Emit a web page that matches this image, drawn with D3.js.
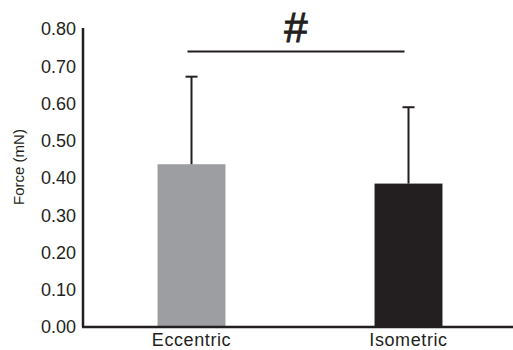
<!DOCTYPE html>
<html><head><meta charset="utf-8">
<script src="https://cdn.jsdelivr.net/npm/d3@7"></script>
<style>body{margin:0;background:#fff}svg{display:block}text{font-family:"Liberation Sans",Arial,sans-serif;fill:#231f20}</style>
</head><body>
<svg id="c" width="513" height="350"></svg>
<script>
const categories = ["Eccentric", "Isometric"];
const means = [0.437, 0.385];
const errorTops = [0.672, 0.590];
const colors = ["#9d9ea2", "#231f20"];
const yTicks = [0, 0.1, 0.2, 0.3, 0.4, 0.5, 0.6, 0.7, 0.8];
const sigLabel = "#";
const yLabel = "Force (mN)";

const svg = d3.select("#c");
const y = d3.scaleLinear().domain([0, 0.8]).range([327, 29]);
const x = d3.scaleBand().domain(categories).range([83, 517]).paddingInner(0.687).paddingOuter(0.3435);

// bars
svg.selectAll("rect.bar").data(categories).join("rect")
  .attr("x", d => x(d)).attr("width", x.bandwidth())
  .attr("y", (d,i) => y(means[i])).attr("height", (d,i) => y(0) - y(means[i]))
  .attr("fill", (d,i) => colors[i]);

// error bars
const eb = svg.append("g").attr("stroke", "#231f20").attr("stroke-width", 2);
categories.forEach((c,i) => {
  const cx = x(c) + x.bandwidth()/2;
  eb.append("line").attr("x1", cx).attr("x2", cx).attr("y1", y(means[i])).attr("y2", y(errorTops[i]));
  eb.append("line").attr("x1", cx-6).attr("x2", cx+6).attr("y1", y(errorTops[i])).attr("y2", y(errorTops[i]));
});

// y axis
const yAxis = svg.append("g").attr("transform", "translate(83,0)")
  .call(d3.axisLeft(y).tickValues(yTicks).tickFormat(d3.format(".2f")).tickSize(0).tickPadding(7));
yAxis.select(".domain").attr("stroke", "#231f20").attr("stroke-width", 2.5).attr("d", `M0,${y(0.8)-1}V${y(0)}`);
yAxis.selectAll("text").attr("font-size", 18).attr("font-family", "Liberation Sans, Arial, sans-serif").attr("fill", "#231f20");

// x axis
const xAxis = svg.append("g").attr("transform", `translate(0,${y(0)})`)
  .call(d3.axisBottom(x).tickSize(0).tickPadding(6));
xAxis.select(".domain").attr("stroke", "#231f20").attr("stroke-width", 2.5).attr("d", "M82,0H513");
xAxis.selectAll("text").attr("font-size", 18).attr("letter-spacing", 0.6).attr("font-family", "Liberation Sans, Arial, sans-serif").attr("fill", "#231f20");

// y label
svg.append("text").attr("transform", "translate(24,167) rotate(-90)")
  .attr("text-anchor", "middle").attr("font-size", 15).text(yLabel);

// significance
const x1 = x(categories[0]) + x.bandwidth()/2 - 4, x2 = x(categories[1]) + x.bandwidth()/2 - 4;
svg.append("line").attr("x1", x1).attr("x2", x2).attr("y1", 51.5).attr("y2", 51.5)
  .attr("stroke", "#231f20").attr("stroke-width", 2);
svg.append("text").attr("x", (x1+x2)/2).attr("y", 42).attr("text-anchor", "middle")
  .attr("font-size", 42).attr("stroke", "#231f20").attr("stroke-width", 1).text(sigLabel);
</script>
</body></html>
